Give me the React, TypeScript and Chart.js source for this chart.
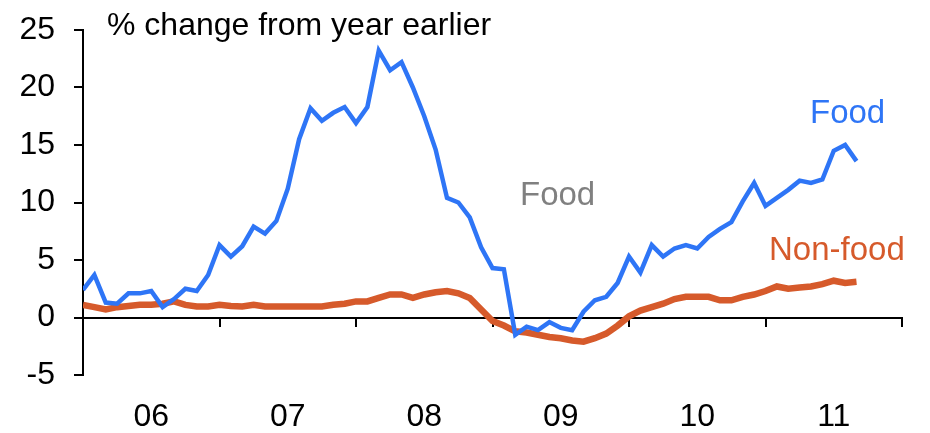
import { useEffect, useRef } from 'react';
import { Chart, registerables } from 'chart.js';

Chart.register(...registerables);

const yearLabels = ['06', '07', '08', '09', '10', '11'];

// Monthly, Jan 2006 .. Sep 2011, % change from year earlier
const food = [
  2.4, 3.7, 1.3, 1.2, 2.1, 2.1, 2.3, 0.9, 1.6, 2.5, 2.3, 3.7,
  6.3, 5.3, 6.2, 7.9, 7.3, 8.4, 11.2, 15.5, 18.2, 17.1, 17.8, 18.3,
  16.9, 18.3, 23.2, 21.5, 22.2, 20.0, 17.5, 14.6, 10.4, 10.0, 8.7, 6.1,
  4.3, 4.2, -1.5, -0.8, -1.1, -0.4, -0.9, -1.1, 0.5, 1.5, 1.8, 3.0,
  5.3, 3.9, 6.3, 5.3, 6.0, 6.3, 6.0, 7.0, 7.7, 8.3, 10.1, 11.7,
  9.7, 10.4, 11.1, 11.9, 11.7, 12.0, 14.5, 15.0, 13.6,
];

const nonFood = [
  1.1, 0.9, 0.7, 0.9, 1.0, 1.1, 1.1, 1.2, 1.4, 1.1, 0.95, 0.95,
  1.1, 1.0, 0.95, 1.1, 0.95, 0.95, 0.95, 0.95, 0.95, 0.95, 1.1, 1.2,
  1.4, 1.4, 1.7, 2.0, 2.0, 1.7, 2.0, 2.2, 2.3, 2.1, 1.7, 0.7,
  -0.3, -0.7, -1.2, -1.3, -1.5, -1.7, -1.8, -2.0, -2.1, -1.8, -1.4, -0.7,
  0.1, 0.6, 0.9, 1.2, 1.6, 1.8, 1.8, 1.8, 1.5, 1.5, 1.8, 2.0,
  2.3, 2.7, 2.5, 2.6, 2.7, 2.9, 3.2, 3.0, 3.1,
];

const yMin = -5;
const yMax = 25;
const yStep = 5;
const monthsTotal = 72;

const titleText = '% change from year earlier';
const foodLabel = 'Food';
const nonFoodLabel = 'Non-food';

const BLUE = '#2E75F6';
const ORANGE = '#D65A2B';
const GREY = '#808080';
const FONT = '"Liberation Sans", Arial, Helvetica, sans-serif';

const annotations = {
  id: 'annotations',
  afterDraw(chart: any) {
    const ctx = chart.ctx as CanvasRenderingContext2D;
    ctx.save();
    ctx.textAlign = 'left';
    ctx.textBaseline = 'alphabetic';
    ctx.font = `32px ${FONT}`;
    ctx.fillStyle = '#000';
    ctx.fillText(titleText, 107, 35);
    ctx.font = `33px ${FONT}`;
    ctx.fillStyle = BLUE;
    ctx.fillText(foodLabel, 810, 123);
    ctx.fillStyle = GREY;
    ctx.fillText(foodLabel, 520, 205);
    ctx.fillStyle = ORANGE;
    ctx.fillText(nonFoodLabel, 769, 260);
    ctx.restore();
  },
};

export default function App() {
  const canvasRef = useRef<HTMLCanvasElement | null>(null);

  useEffect(() => {
    const canvas = canvasRef.current;
    if (!canvas) return;
    const chart = new Chart(canvas, {
      type: 'line',
      data: {
        datasets: [
          {
            label: 'Food',
            data: food.map((v, i) => ({ x: i, y: v })),
            borderColor: BLUE,
            backgroundColor: BLUE,
            borderWidth: 4.5,
            pointRadius: 0,
            tension: 0,
            fill: false,
            xAxisID: 'x',
            yAxisID: 'y',
          },
          {
            label: 'Non-food',
            data: nonFood.map((v, i) => ({ x: i, y: v })),
            borderColor: ORANGE,
            backgroundColor: ORANGE,
            borderWidth: 6.5,
            pointRadius: 0,
            tension: 0,
            fill: false,
            xAxisID: 'x',
            yAxisID: 'y',
          },
        ],
      },
      options: {
        responsive: false,
        animation: false,
        devicePixelRatio: 1,
        layout: { padding: { left: 0, right: 28, top: 30, bottom: 0 } },
        plugins: {
          legend: { display: false },
          tooltip: { enabled: false },
        },
        scales: {
          y: {
            type: 'linear',
            position: 'left',
            min: yMin,
            max: yMax,
            ticks: {
              stepSize: yStep,
              color: '#000',
              padding: 19,
              font: { family: FONT, size: 32 },
            },
            grid: {
              drawOnChartArea: false,
              drawTicks: true,
              tickLength: 9,
              color: '#000',
              lineWidth: 2,
            },
            border: { display: true, color: '#000', width: 2 },
            afterFit: (s: any) => {
              s.width = 83;
              s.paddingTop = 0;
              s.paddingBottom = 0;
            },
          },
          x: {
            type: 'linear',
            position: { y: 0 },
            min: 0,
            max: monthsTotal,
            ticks: { display: false, stepSize: 12 },
            grid: {
              drawOnChartArea: false,
              drawTicks: true,
              tickLength: 8,
              color: '#000',
              lineWidth: 2,
            },
            border: { display: true, color: '#000', width: 2 },
            afterFit: (s: any) => {
              s.height = 0;
            },
          } as any,
          xb: {
            type: 'linear',
            position: 'bottom',
            min: 0,
            max: monthsTotal,
            afterBuildTicks: (s: any) => {
              s.ticks = yearLabels.map((_, i) => ({ value: 6 + 12 * i }));
            },
            ticks: {
              autoSkip: false,
              maxRotation: 0,
              color: '#000',
              padding: 23,
              font: { family: FONT, size: 32 },
              callback: (v: any) => yearLabels[Math.round((Number(v) - 6) / 12)] ?? '',
            },
            grid: { display: false, drawTicks: false },
            border: { display: false },
            afterFit: (s: any) => {
              s.height = 58;
            },
          },
        },
      },
      plugins: [annotations],
    });
    return () => chart.destroy();
  }, []);

  return (
    <div style={{ position: 'fixed', left: 0, top: 0, width: 930, height: 433, background: '#fff' }}>
      <canvas ref={canvasRef} width={930} height={433} style={{ display: 'block' }} />
    </div>
  );
}
